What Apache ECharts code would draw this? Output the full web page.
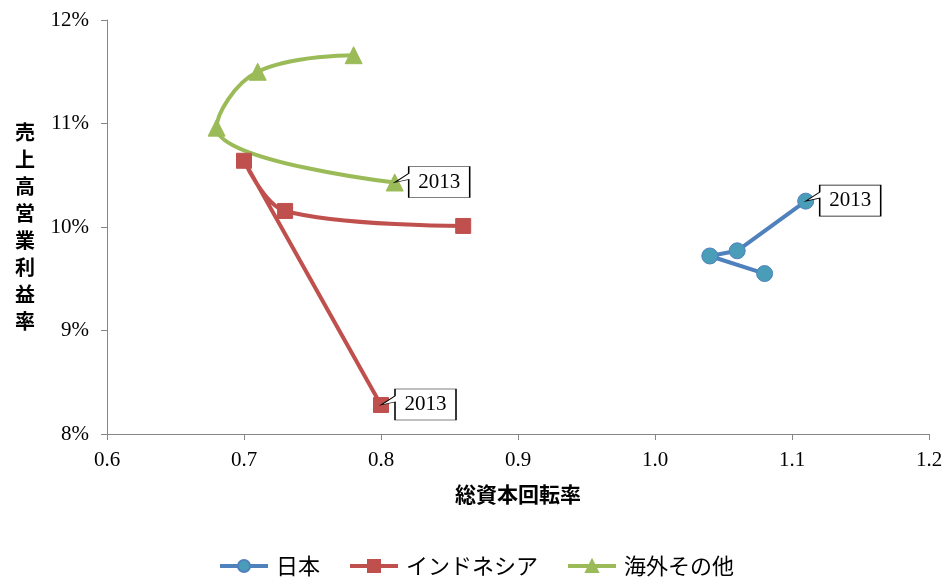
<!DOCTYPE html>
<html>
<head>
<meta charset="utf-8">
<script src="https://cdn.jsdelivr.net/npm/echarts@6/dist/echarts.min.js"></script>
<style>
  html, body { margin: 0; padding: 0; background: #fff; }
  #chart { width: 952px; height: 578px; }
</style>
</head>
<body>
<div id="chart"></div>
<script>
// 総資本回転率 (x) と 売上高営業利益率 (y, %) の推移 — 2010→2013
const seriesNames = ['日本', 'インドネシア', '海外その他'];
const japanX = [1.08, 1.04, 1.06, 1.11];
const japanY = [9.55, 9.72, 9.77, 10.25];
const indonesiaX = [0.86, 0.73, 0.70, 0.80];
const indonesiaY = [10.01, 10.155, 10.64, 8.28];
const otherX = [0.78, 0.71, 0.68, 0.81];
const otherY = [11.66, 11.50, 10.96, 10.43];
const lastYearLabel = '2013';
const xTicks = { min: 0.6, max: 1.2, interval: 0.1 };
const yTicks = { min: 8, max: 12, interval: 1 };

const serif = '"Liberation Serif", "Times New Roman", "Noto Sans CJK JP", serif';
const gothic = '"Noto Sans CJK JP", sans-serif';

// speech-bubble outline: tail tip at (0,0), box to the right of it
const calloutPath = 'path://M14,-16 L75,-16 L75,15 L14,15 L14,-3 L0,0 L14,-9 Z';
const calloutW = 75, calloutH = 31;

function pairs(xs, ys) {
  return xs.map((x, i) => [x, ys[i]]);
}

function callout(xs, ys) {
  const n = xs.length - 1;
  return {
    silent: true,
    animation: false,
    symbol: calloutPath,
    symbolSize: [calloutW, calloutH],
    symbolKeepAspect: false,
    symbolOffset: [calloutW / 2, -0.5],
    itemStyle: { color: '#fff', borderColor: '#000', borderWidth: 1 },
    label: {
      show: true,
      position: 'inside',
      offset: [7, 0],
      formatter: lastYearLabel,
      fontFamily: serif,
      fontSize: 21,
      color: '#000'
    },
    data: [{ coord: [xs[n], ys[n]] }],
    z: 10
  };
}

function makeSeries(name, xs, ys, lineColor, symbol, symbolSize, fill, smooth) {
  return {
    name: name,
    type: 'line',
    smooth: smooth,
    data: pairs(xs, ys),
    symbol: symbol,
    symbolSize: symbolSize,
    lineStyle: { color: lineColor, width: 4 },
    itemStyle: { color: fill, borderColor: lineColor, borderWidth: 1 },
    emphasis: { disabled: true },
    markPoint: callout(xs, ys),
    z: 2
  };
}

const chart = echarts.init(document.getElementById('chart'), null, { renderer: 'canvas' });
chart.setOption({
  animation: false,
  backgroundColor: '#fff',
  grid: { left: 107, right: 23, top: 20, bottom: 144 },
  xAxis: {
    type: 'value',
    min: xTicks.min, max: xTicks.max, interval: xTicks.interval,
    name: '総資本回転率',
    nameLocation: 'middle',
    nameGap: 50,
    nameTextStyle: { fontFamily: gothic, fontSize: 21, fontWeight: 'bold', color: '#000' },
    axisLine: { lineStyle: { color: '#868686', width: 1 } },
    axisTick: { show: true, length: 6, lineStyle: { color: '#868686' } },
    axisLabel: {
      fontFamily: serif, fontSize: 21, color: '#000', margin: 16,
      formatter: v => v.toFixed(1)
    },
    splitLine: { show: false }
  },
  yAxis: {
    type: 'value',
    min: yTicks.min, max: yTicks.max, interval: yTicks.interval,
    name: '売\n上\n高\n営\n業\n利\n益\n率',
    nameLocation: 'middle',
    nameRotate: 0,
    nameGap: 72,
    nameTextStyle: {
      fontFamily: gothic, fontSize: 20, fontWeight: 'bold', color: '#000',
      lineHeight: 27, padding: [2, 0, 0, 0]
    },
    axisLine: { show: true, lineStyle: { color: '#868686', width: 1 } },
    axisTick: { show: true, length: 6, lineStyle: { color: '#868686' } },
    axisLabel: {
      fontFamily: serif, fontSize: 21, color: '#000', margin: 18,
      formatter: v => v + '%'
    },
    splitLine: { show: false }
  },
  legend: {
    top: 550,
    left: 'center',
    itemWidth: 48,
    itemHeight: 15,
    itemGap: 28,
    lineStyle: { width: 4 },
    textStyle: { fontFamily: gothic, fontSize: 22, color: '#000', padding: [0, 0, 3, 3] },
    data: seriesNames
  },
  series: [
    makeSeries(seriesNames[0], japanX, japanY, '#4F81BD', 'circle', 16, '#4A9DB8', false),
    makeSeries(seriesNames[1], indonesiaX, indonesiaY, '#C0504D', 'rect', 15, '#C0504D', 0.35),
    makeSeries(seriesNames[2], otherX, otherY, '#9BBB59', 'triangle', 17, '#9BBB59', 0.42)
  ]
});
</script>
</body>
</html>
